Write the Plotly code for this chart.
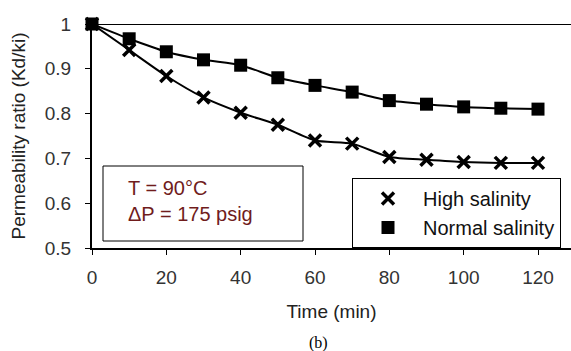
import plotly.graph_objects as go

time_min = [0, 10, 20, 30, 40, 50, 60, 70, 80, 90, 100, 110, 120]
high_salinity = [1.0, 0.942, 0.884, 0.836, 0.802, 0.775, 0.740, 0.733, 0.703, 0.697, 0.692, 0.690, 0.690]
normal_salinity = [1.0, 0.967, 0.938, 0.920, 0.908, 0.880, 0.863, 0.848, 0.829, 0.821, 0.815, 0.812, 0.810]
y_ticks = [0.5, 0.6, 0.7, 0.8, 0.9, 1.0]
y_tick_labels = ["0.5", "0.6", "0.7", "0.8", "0.9", "1"]
x_ticks = [0, 20, 40, 60, 80, 100, 120]

font = "Liberation Sans, Arial, sans-serif"

x_marker = dict(symbol="x-thin", size=12, color="black", line=dict(color="black", width=3.5))
sq_marker = dict(symbol="square", size=13, color="black")

fig = go.Figure()
# fitted lines
fig.add_trace(go.Scatter(
    x=time_min, y=high_salinity, mode="lines", showlegend=False, hoverinfo="skip",
    line=dict(color="black", width=2, shape="spline", smoothing=0.6), cliponaxis=False,
))
fig.add_trace(go.Scatter(
    x=time_min, y=normal_salinity, mode="lines", showlegend=False, hoverinfo="skip",
    line=dict(color="black", width=2, shape="spline", smoothing=0.6), cliponaxis=False,
))
# data points
fig.add_trace(go.Scatter(
    x=time_min, y=high_salinity, name="High salinity", mode="markers",
    marker=x_marker, cliponaxis=False,
))
fig.add_trace(go.Scatter(
    x=time_min, y=normal_salinity, name="Normal salinity", mode="markers",
    marker=sq_marker, cliponaxis=False,
))

W, H = 571, 351
L, R, T, B = 92, 0, 24, 103
pw = W - L - R
ph = H - T - B

def px(xp):
    return (xp - L) / pw

def py(yp):
    return (H - B - yp) / ph

fig.update_layout(
    width=W, height=H,
    margin=dict(l=L, r=R, t=T, b=B),
    paper_bgcolor="white", plot_bgcolor="white",
    font=dict(family=font, size=19, color="black"),
    showlegend=True,
    legend=dict(
        x=px(352), y=py(178), xanchor="left", yanchor="top",
        bordercolor="black", borderwidth=1, bgcolor="white",
        font=dict(size=20, family=font, color="#111"), itemwidth=60,
        tracegroupgap=0,
    ),
    xaxis=dict(
        range=[0, (W - L) / ((538 - 92) / 120)], tickvals=x_ticks,
        showgrid=False, zeroline=False, showline=True, linecolor="black", linewidth=2,
        ticks="outside", ticklen=5, tickcolor="black", tickwidth=1,
        ticklabelstandoff=6,
        tickfont=dict(size=19, color="#333"),
        title=dict(text="Time (min)", font=dict(size=19, color="#222"), standoff=18),
    ),
    yaxis=dict(
        range=[0.5, 1.0], tickvals=y_ticks, ticktext=y_tick_labels,
        showgrid=False, zeroline=False, showline=True, linecolor="black", linewidth=2,
        ticks="outside", ticklen=5, tickcolor="black", tickwidth=1,
        ticklabelstandoff=10,
        tickfont=dict(size=19, color="#333"),
        title=dict(text="Permeability ratio (Kd/ki)", font=dict(size=19, color="#222"), standoff=14),
    ),
)

# top line at y = 1
fig.add_shape(type="line", xref="paper", yref="y", x0=0, x1=1, y0=1.0, y1=1.0,
              line=dict(color="black", width=2))

# condition box
fig.add_shape(type="rect", xref="paper", yref="paper",
              x0=px(103), x1=px(303), y0=py(241), y1=py(166),
              line=dict(color="black", width=1), fillcolor="white", layer="below")
fig.add_annotation(xref="paper", yref="paper", x=px(126), y=py(188), xanchor="left", yanchor="middle",
                   text="T = 90°C", showarrow=False, font=dict(size=20, color="#701c1c", family=font))
fig.add_annotation(xref="paper", yref="paper", x=px(126), y=py(214), xanchor="left", yanchor="middle",
                   text="ΔP = 175 psig", showarrow=False, font=dict(size=20, color="#701c1c", family=font))

# caption
fig.add_annotation(xref="paper", yref="paper", x=px(318), y=py(343), xanchor="center", yanchor="middle",
                   text="(b)", showarrow=False,
                   font=dict(size=16, color="black", family="Liberation Serif, Times New Roman, serif"))

fig.write_html("out.html")
